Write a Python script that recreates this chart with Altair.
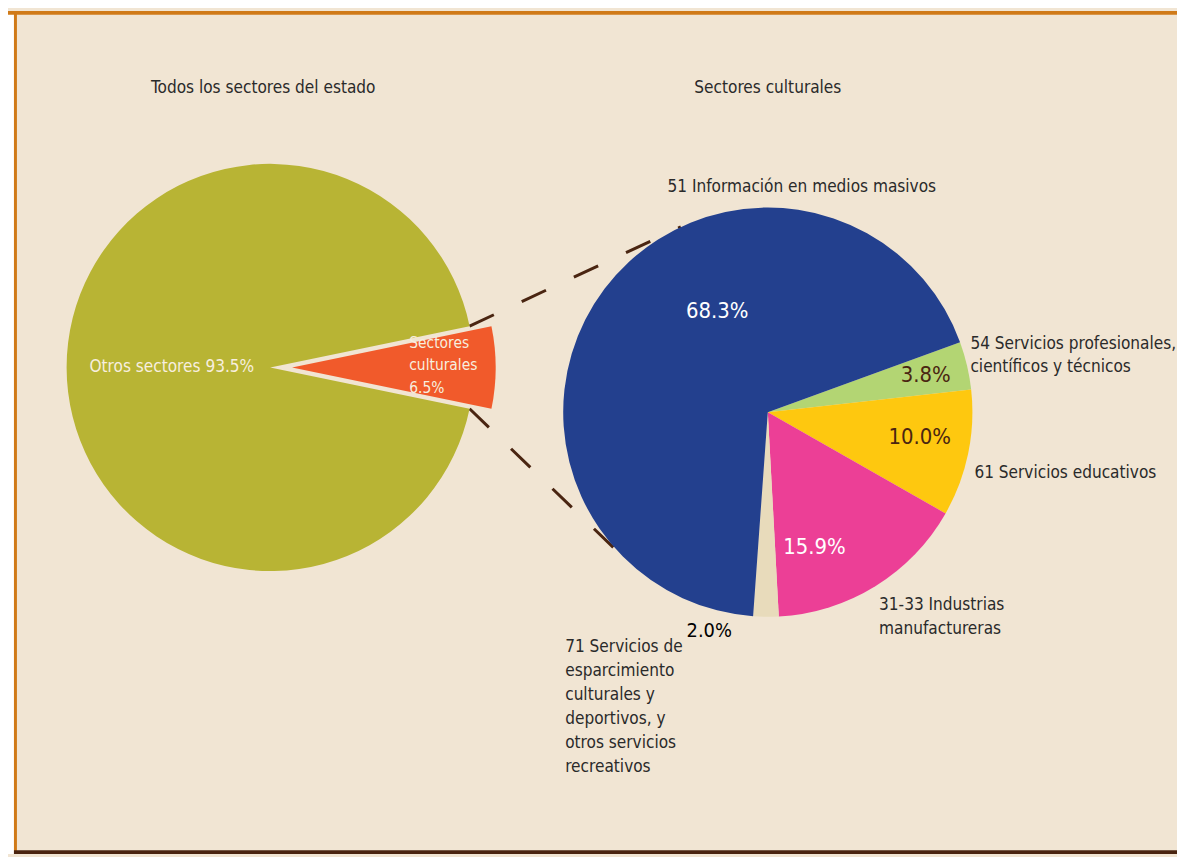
import math
import altair as alt
import pandas as pd

# ---------------- data ----------------
overview_categories = ["Sectores culturales", "Otros sectores"]
overview_shares = [6.5, 93.5]

cultural_categories = [
    "54 Servicios profesionales, científicos y técnicos",
    "61 Servicios educativos",
    "31-33 Industrias manufactureras",
    "71 Servicios de esparcimiento culturales y deportivos, y otros servicios recreativos",
    "51 Información en medios masivos",
]
cultural_shares = [3.8, 10.0, 15.9, 2.0, 68.3]

cultural_label_lines = [
    ["54 Servicios profesionales,", "científicos y técnicos"],
    ["61 Servicios educativos"],
    ["31-33 Industrias", "manufactureras"],
    ["71 Servicios de", "esparcimiento", "culturales y", "deportivos, y", "otros servicios", "recreativos"],
    ["51 Información en medios masivos"],
]
overview_label_lines = [["Sectores", "culturales"], ["Otros sectores"]]
panel_titles = ["Todos los sectores del estado", "Sectores culturales"]

# ---------------- layout / style ----------------
W, H = 1177, 849
BG = "#f1e5d3"
FONT = "DejaVu Sans Condensed"
TEXT_DARK = "#2a2a2a"
CREAM = "#f7eedf"
BROWN = "#4a2511"

overview_colors = ["#f15a2b", "#b8b434"]
cultural_colors = ["#b3d573", "#fec80f", "#ec3f96", "#e8dbbb", "#23408e"]

LCX, LCY, LR = 264, 359, 205
EXPLODE = 22
RCX, RCY, RR = 765, 404, 206

# orange slice centred on the east direction
left_start = math.pi / 2 - math.pi * overview_shares[0] / 100.0
right_start = math.radians(70)

LABEL_SIZE = 17.2
title_pos = [(144, 78), (691, 78)]
cultural_label_pos = [(969, 335), (973, 465), (877, 598), (561, 641), (664, 177)]
cultural_pct_pos = [(924, 367), (918, 429), (812, 540), (706, 624), (714, 302)]
cultural_pct_color = [BROWN, BROWN, "white", "black", "white"]
cultural_pct_size = [22, 22, 22, 20, 22]
overview_label_pos = [(404, 334), (82, 359)]

xs = alt.Scale(domain=[0, W], nice=False, zero=False)
ys = alt.Scale(domain=[0, H], nice=False, zero=False, reverse=True)

# ---------------- pies ----------------
left_df = pd.DataFrame({"cat": overview_categories, "value": overview_shares,
                        "idx": list(range(len(overview_categories)))})
right_df = pd.DataFrame({"cat": cultural_categories, "value": cultural_shares,
                         "idx": list(range(len(cultural_categories)))})


def left_pie(cx, visible_cat):
    return alt.Chart(left_df).mark_arc(radius=LR).encode(
        theta=alt.Theta("value:Q", stack=True,
                        scale=alt.Scale(range=[left_start, left_start + 2 * math.pi])),
        color=alt.Color("cat:N", scale=alt.Scale(domain=overview_categories, range=overview_colors),
                        legend=None),
        order=alt.Order("idx:Q"),
        opacity=alt.condition(f"datum.cat === '{visible_cat}'", alt.value(1), alt.value(0)),
        x=alt.value(cx), y=alt.value(LCY),
    )


left_main = left_pie(LCX, "Otros sectores")
left_explode = left_pie(LCX + EXPLODE, "Sectores culturales")

right_pie = alt.Chart(right_df).mark_arc(radius=RR).encode(
    theta=alt.Theta("value:Q", stack=True,
                    scale=alt.Scale(range=[right_start, right_start + 2 * math.pi])),
    color=alt.Color("cat:N", scale=alt.Scale(domain=cultural_categories, range=cultural_colors),
                    legend=None),
    order=alt.Order("idx:Q"),
    x=alt.value(RCX), y=alt.value(RCY),
)

# ---------------- connectors (tangents from the notch corners to the right pie) ----------------
a_top = left_start
a_bot = left_start + 2 * math.pi * overview_shares[0] / 100.0


def corner(a):
    return (LCX + LR * math.sin(a), LCY - LR * math.cos(a))


def tangent(p, upper):
    dx, dy = p[0] - RCX, p[1] - RCY
    d = math.hypot(dx, dy)
    alpha = math.acos(RR / d)
    base = math.atan2(dy, dx)
    pts = [(RCX + RR * math.cos(base + s * alpha), RCY + RR * math.sin(base + s * alpha)) for s in (1, -1)]
    pts.sort(key=lambda t: t[1])
    return pts[0] if upper else pts[1]


segs = []
for a, up in ((a_top, True), (a_bot, False)):
    p = corner(a)
    t = tangent(p, up)
    segs.append({"x": p[0], "y": p[1], "x2": t[0], "y2": t[1]})
conn_df = pd.DataFrame(segs)

connectors = alt.Chart(conn_df).mark_rule(color=BROWN, strokeWidth=3, strokeDash=[27, 31]).encode(
    x=alt.X("x:Q", scale=xs, axis=None), y=alt.Y("y:Q", scale=ys, axis=None),
    x2="x2:Q", y2="y2:Q",
)

# ---------------- text ----------------
left_rows, center_rows = [], []
for t, (x, y) in zip(panel_titles, title_pos):
    left_rows.append({"text": t, "x": x, "y": y, "color": TEXT_DARK, "size": LABEL_SIZE})
for lines, (x, y) in zip(cultural_label_lines, cultural_label_pos):
    for i, ln in enumerate(lines):
        left_rows.append({"text": ln, "x": x, "y": y + 24 * i, "color": TEXT_DARK, "size": LABEL_SIZE})
for v, (x, y), c, s in zip(cultural_shares, cultural_pct_pos, cultural_pct_color, cultural_pct_size):
    center_rows.append({"text": f"{v:.1f}%", "x": x, "y": y, "color": c, "size": s})
# overview labels
x0, y0 = overview_label_pos[0]
for i, ln in enumerate(overview_label_lines[0] + [f"{overview_shares[0]:.1f}%"]):
    left_rows.append({"text": ln, "x": x0, "y": y0 + 23 * i, "color": CREAM, "size": 15.5})
x1, y1 = overview_label_pos[1]
left_rows.append({"text": f"{overview_label_lines[1][0]} {overview_shares[1]:.1f}%", "x": x1, "y": y1,
                  "color": CREAM, "size": LABEL_SIZE})


def text_layer(rows, align):
    return alt.Chart(pd.DataFrame(rows)).mark_text(align=align, baseline="middle", font=FONT).encode(
        x=alt.X("x:Q", scale=xs, axis=None), y=alt.Y("y:Q", scale=ys, axis=None),
        text="text:N",
        color=alt.Color("color:N", scale=None),
        size=alt.Size("size:Q", scale=None),
    )


texts_left = text_layer(left_rows, "left")
texts_center = text_layer(center_rows, "center")

# ---------------- frame ----------------
one = pd.DataFrame({"k": [0]})


def band(x, x2, y, y2, color):
    return alt.Chart(one).mark_rect(color=color).encode(
        x=alt.value(x), x2=alt.value(x2), y=alt.value(y), y2=alt.value(y2))


frame = [
    band(0, 6, 0, H, "white"),
    band(6, 9, 0, H, "#d07a18"),
    band(0, W, 0, 4, "#d07a18"),
    band(6, W, H - 4, H, "#4a2410"),
]

chart = alt.layer(
    *frame, connectors, left_main, left_explode, right_pie, texts_left, texts_center
).resolve_scale(
    theta="independent", color="independent"
).properties(
    width=W, height=H, padding=0, autosize=alt.AutoSizeParams(type="none"), background=BG
).configure_view(stroke=None)

chart.save("out.html", embed_options={"renderer": "svg", "actions": False})
